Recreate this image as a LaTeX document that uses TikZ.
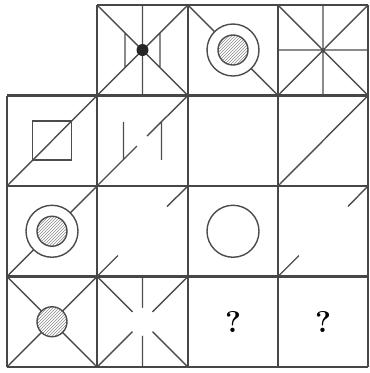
\documentclass[tikz,border=0pt]{standalone}
\usetikzlibrary{patterns}
\begin{document}
\begin{tikzpicture}[x=1pt,y=-1pt,
  gridline/.style={line width=2.1pt, draw=black!72},
  figline/.style={line width=1.4pt, draw=black!70},
  hatched/.style={line width=1.4pt, draw=black!70, pattern=north east lines, pattern color=black!45}]
\useasboundingbox (0,0) rectangle (370,373);
% ---- row 0, col 1
\draw[figline] (97,5) -- (188,95.5) (188,5) -- (97,95.5) (142.5,5) -- (142.5,95.5)
  (125,32.5) -- (125,67.5) (160,32.5) -- (160,67.5);
\fill[black!85] (142.5,50) circle (6);
% ---- row 0, col 2
\draw[figline] (188,5) -- (278,95.5);
\draw[figline, fill=white] (233,50) circle (26);
\fill[white] (233,50) circle (15);
\draw[hatched] (233,50) circle (15);
% ---- row 0, col 3
\draw[figline] (278,5) -- (368,95.5) (368,5) -- (278,95.5) (323,5) -- (323,95.5) (278,50) -- (368,50);
% ---- row 1, col 0
\draw[figline] (7,186) -- (97,95.5);
\draw[figline] (32.5,121) rectangle (71.5,160);
% ---- row 1, col 1
\draw[figline] (97,186) -- (137,146) (147,136) -- (188,95.5)
  (123.5,121.75) -- (123.5,159.75) (161.5,121.75) -- (161.5,159.75);
% ---- row 1, col 3
\draw[figline] (278,186) -- (368,95.5);
% ---- row 2, col 0
\draw[figline] (7,276.5) -- (97,186);
\draw[figline, fill=white] (52,231.25) circle (26);
\fill[white] (52,231.25) circle (15);
\draw[hatched] (52,231.25) circle (15);
% ---- row 2, col 1
\draw[figline] (167,206.5) -- (188,186) (97,276.5) -- (118,255.5);
% ---- row 2, col 2
\draw[figline] (233,231.25) circle (26);
% ---- row 2, col 3
\draw[figline] (348,206.5) -- (368,186) (278,276.5) -- (299,255.5);
% ---- row 3, col 0
\draw[figline] (7,276.5) -- (97,367) (97,276.5) -- (7,367);
\fill[white] (52,321.75) circle (15);
\draw[hatched] (52,321.75) circle (15);
% ---- row 3, col 1
\draw[figline] (97,276.5) -- (188,367) (188,276.5) -- (97,367) (142.5,276.5) -- (142.5,367);
\fill[white] (142.5,321.75) circle (14);
% ---- row 3, cols 2 and 3
\node (q1) at (233,322) {\fontsize{30}{32}\selectfont\bfseries ?};
\node (q2) at (323,322) {\fontsize{30}{32}\selectfont\bfseries ?};
% ---- grid
\draw[gridline] (97,5) -- (368,5)
  (7,95.5) -- (368,95.5) (7,186) -- (368,186) (7,276.5) -- (368,276.5) (7,367) -- (368,367)
  (7,95.5) -- (7,367) (97,5) -- (97,367) (188,5) -- (188,367) (278,5) -- (278,367) (368,5) -- (368,367);
\end{tikzpicture}
\end{document}
